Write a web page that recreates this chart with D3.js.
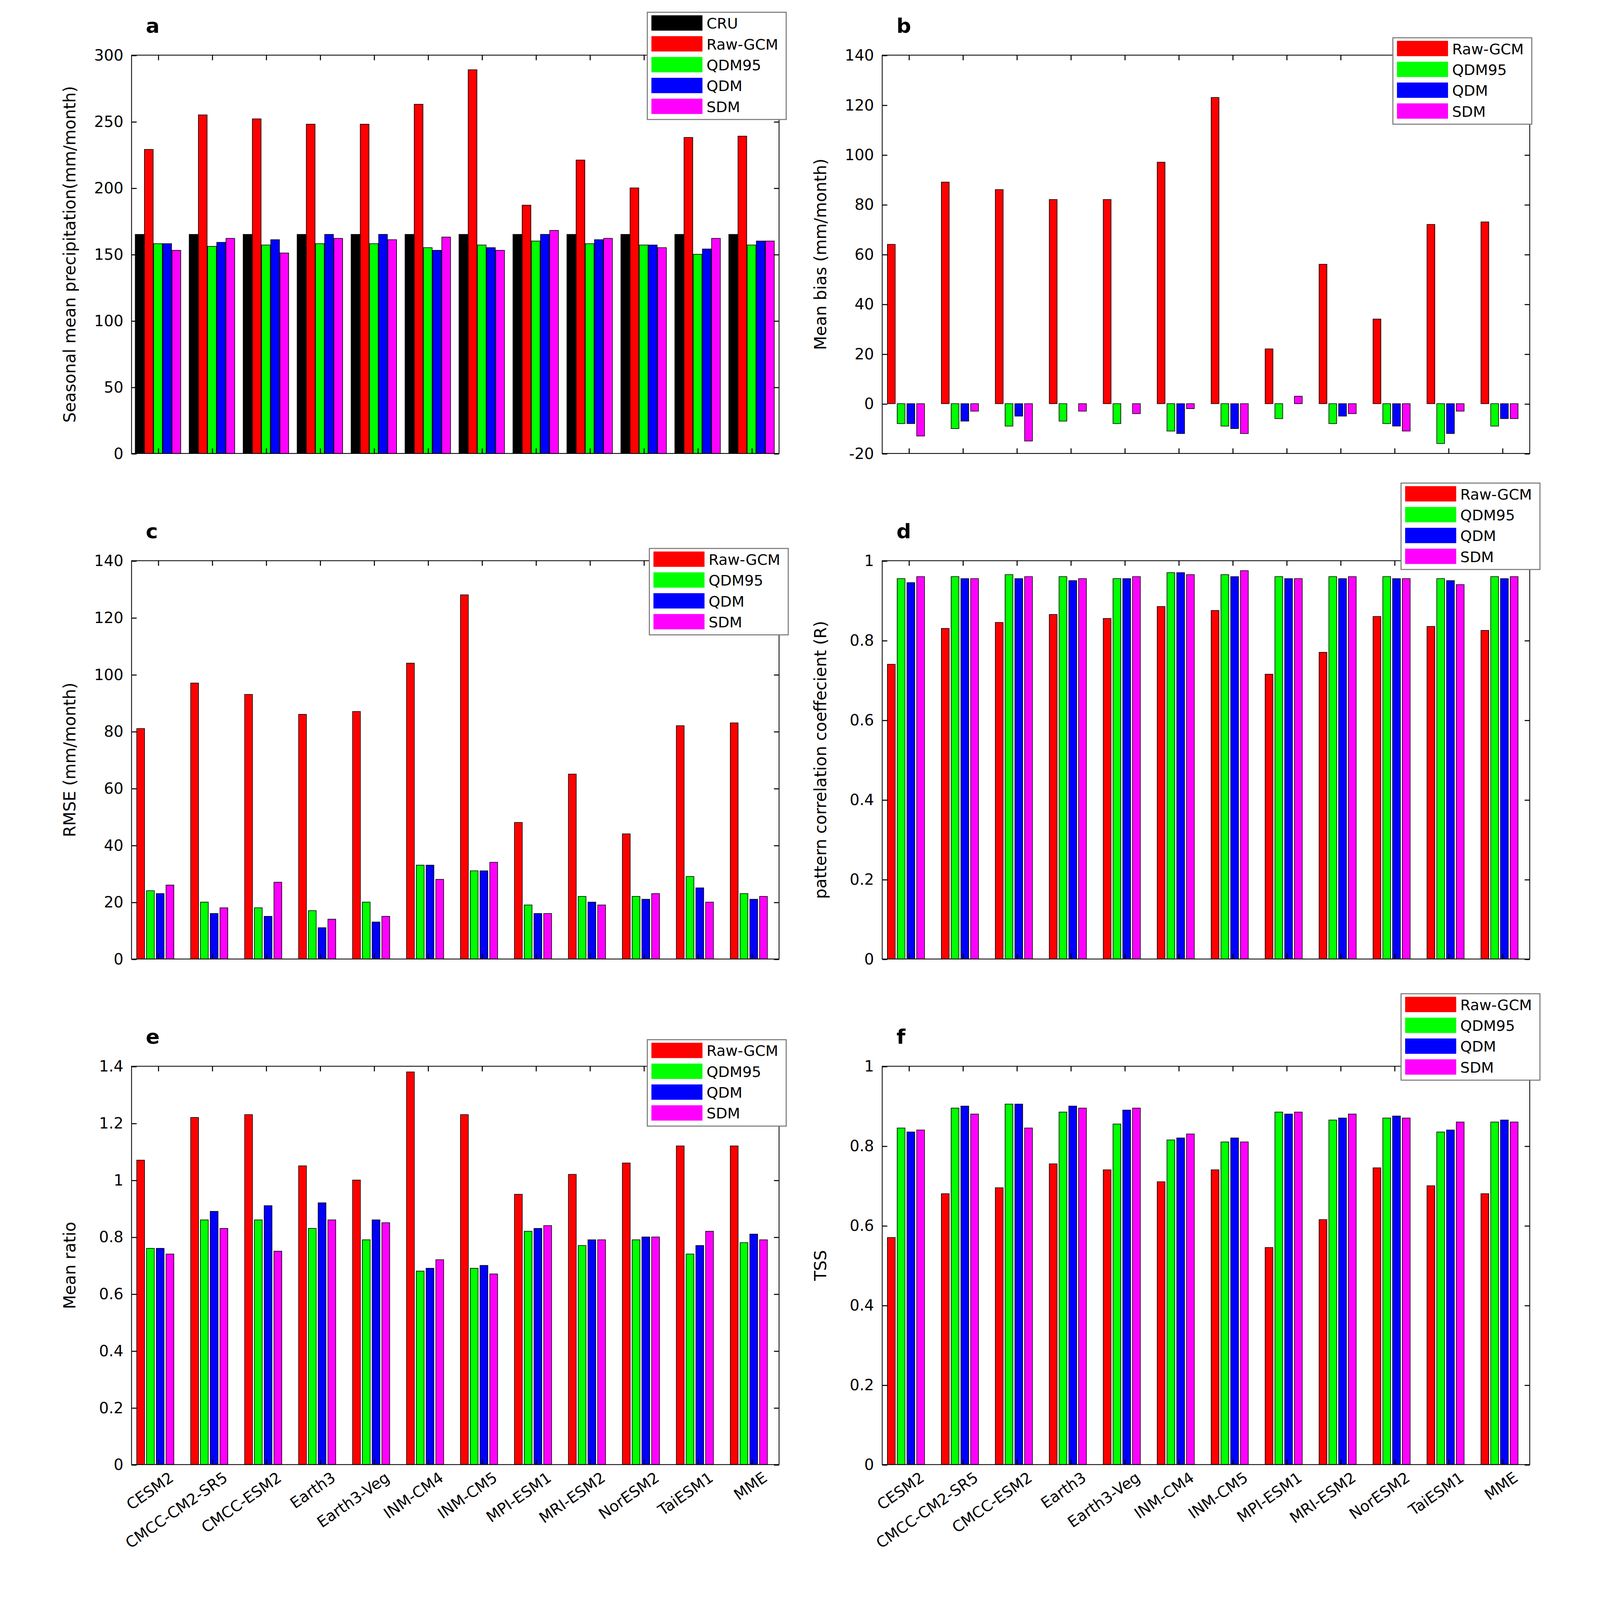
<!DOCTYPE html><html><head><meta charset="utf-8"><script src="https://cdn.jsdelivr.net/npm/d3@7"></script>
<style>html,body{margin:0;padding:0;background:#fff;overflow:hidden}svg{display:block}text{font-family:"DejaVu Sans",sans-serif}</style></head><body>
<script>
const models=["CESM2","CMCC-CM2-SR5","CMCC-ESM2","Earth3","Earth3-Veg","INM-CM4","INM-CM5","MPI-ESM1","MRI-ESM2","NorESM2","TaiESM1","MME"];
const aCRU=[165,165,165,165,165,165,165,165,165,165,165,165];
const aRaw=[229,255,252,248,248,263,289,187,221,200,238,239];
const aQ95=[158,156,157,158,158,155,157,160,158,157,150,157];
const aQDM=[158,159,161,165,165,153,155,165,161,157,154,160];
const aSDM=[153,162,151,162,161,163,153,168,162,155,162,160];
const bRaw=[64,89,86,82,82,97,123,22,56,34,72,73];
const bQ95=[-8,-10,-9,-7,-8,-11,-9,-6,-8,-8,-16,-9];
const bQDM=[-8,-7,-5,0,0,-12,-10,0,-5,-9,-12,-6];
const bSDM=[-13,-3,-15,-3,-4,-2,-12,3,-4,-11,-3,-6];
const cRaw=[81,97,93,86,87,104,128,48,65,44,82,83];
const cQ95=[24,20,18,17,20,33,31,19,22,22,29,23];
const cQDM=[23,16,15,11,13,33,31,16,20,21,25,21];
const cSDM=[26,18,27,14,15,28,34,16,19,23,20,22];
const dRaw=[.74,.83,.845,.865,.855,.885,.875,.715,.77,.86,.835,.825];
const dQ95=[.955,.96,.965,.96,.955,.97,.965,.96,.96,.96,.955,.96];
const dQDM=[.945,.955,.955,.95,.955,.97,.96,.955,.955,.955,.95,.955];
const dSDM=[.96,.955,.96,.955,.96,.965,.975,.955,.96,.955,.94,.96];
const eRaw=[1.07,1.22,1.23,1.05,1.0,1.38,1.23,.95,1.02,1.06,1.12,1.12];
const eQ95=[.76,.86,.86,.83,.79,.68,.69,.82,.77,.79,.74,.78];
const eQDM=[.76,.89,.91,.92,.86,.69,.70,.83,.79,.80,.77,.81];
const eSDM=[.74,.83,.75,.86,.85,.72,.67,.84,.79,.80,.82,.79];
const fRaw=[.57,.68,.695,.755,.74,.71,.74,.545,.615,.745,.70,.68];
const fQ95=[.845,.895,.905,.885,.855,.815,.81,.885,.865,.87,.835,.86];
const fQDM=[.835,.90,.905,.90,.89,.82,.82,.88,.87,.875,.84,.865];
const fSDM=[.84,.88,.845,.895,.895,.83,.81,.885,.88,.87,.86,.86];
const col={CRU:"#000",'Raw-GCM':"#ff0000",QDM95:"#00ff00",QDM:"#0000ff",SDM:"#ff00ff"};
const svg=d3.select("body").append("svg").attr("viewBox","0 0 1475 1566.6")
  .attr("preserveAspectRatio","xMidYMid meet").style("width","100vw").style("height","100vh");
const root=svg.append("g");
const panels=[
 {l:"a",x:83,y:54,dom:[0,300],tk:d3.range(0,301,50),yl:"Seasonal mean precipitation(mm/month)",s:{CRU:aCRU,'Raw-GCM':aRaw,QDM95:aQ95,QDM:aQDM,SDM:aSDM},lg:[588,12],fmt:d=>d},
 {l:"b",x:818,y:54,dom:[-20,140],tk:d3.range(-20,141,20),yl:"Mean bias (mm/month)",s:{'Raw-GCM':bRaw,QDM95:bQ95,QDM:bQDM,SDM:bSDM},lg:[1318,37],fmt:d=>d},
 {l:"c",x:83,y:549,dom:[0,140],tk:d3.range(0,141,20),yl:"RMSE (mm/month)",s:{'Raw-GCM':cRaw,QDM95:cQ95,QDM:cQDM,SDM:cSDM},lg:[590,537],fmt:d=>d},
 {l:"d",x:818,y:549,dom:[0,1],tk:d3.range(0,1.01,0.2),yl:"pattern correlation coeffecient (R)",s:{'Raw-GCM':dRaw,QDM95:dQ95,QDM:dQDM,SDM:dSDM},lg:[1326,473],fmt:d=>+d.toFixed(1)},
 {l:"e",x:83,y:1044,dom:[0,1.4],tk:d3.range(0,1.41,0.2),yl:"Mean ratio",s:{'Raw-GCM':eRaw,QDM95:eQ95,QDM:eQDM,SDM:eSDM},lg:[588,1018],fmt:d=>+d.toFixed(1),xl:true},
 {l:"f",x:818,y:1044,dom:[0,1],tk:d3.range(0,1.01,0.2),yl:"TSS",s:{'Raw-GCM':fRaw,QDM95:fQ95,QDM:fQDM,SDM:fSDM},lg:[1326,973],fmt:d=>+d.toFixed(1),xl:true}];
const W=634,H=390;
panels.forEach(p=>{
 const g=root.append("g").attr("transform",`translate(${p.x},${p.y})`);
 const keys=Object.keys(p.s);
 const x=d3.scaleBand().domain(models).range([0,W]);
 const inner=d3.scaleBand().domain(keys).range([x.bandwidth()*0.06,x.bandwidth()*(keys.length==5?0.92:0.82)]).padding(keys.length==5?0.05:0.2);
 const y=d3.scaleLinear().domain(p.dom).range([H,0]);
 keys.forEach(k=>{
  g.selectAll(null).data(p.s[k]).enter().append("rect")
   .attr("x",(d,i)=>x(models[i])+inner(k)).attr("width",inner.bandwidth())
   .attr("y",d=>y(Math.max(0,d))).attr("height",d=>Math.abs(y(d)-y(0)))
   .attr("fill",col[k]).attr("stroke","#000").attr("stroke-width",0.6);
 });
 g.append("rect").attr("width",W).attr("height",H).attr("fill","none").attr("stroke","#000").attr("stroke-width",0.8);
 const ya=g.append("g").call(d3.axisLeft(y).tickValues(p.tk).tickSizeInner(-5).tickSizeOuter(0).tickPadding(8).tickFormat(p.fmt));
 ya.select(".domain").remove();
 ya.selectAll("text").attr("font-size",15);
 g.append("g").call(d3.axisRight(y).tickValues(p.tk).tickSize(-5).tickFormat("")).attr("transform",`translate(${W},0)`).select(".domain").remove();
 const xa=g.append("g").attr("transform",`translate(0,${H})`).call(d3.axisBottom(x).tickSize(-5).tickFormat(p.xl?null:""));
 xa.select(".domain").remove();
 g.append("g").call(d3.axisTop(x).tickSize(-5).tickFormat("")).select(".domain").remove();
 if(p.xl) xa.selectAll("text").attr("font-size",15).attr("text-anchor","end").attr("transform","translate(8,4) rotate(-35)");
 g.append("text").attr("transform",`translate(-55,${H/2}) rotate(-90)`).attr("text-anchor","middle").attr("font-size",16).text(p.yl);
 g.append("text").attr("x",14).attr("y",-22).attr("font-size",20).attr("font-weight","bold").text(p.l);
 const lg=root.append("g").attr("transform",`translate(${p.lg[0]},${p.lg[1]})`);
 lg.append("rect").attr("width",136).attr("height",keys.length*20.4+3).attr("fill","#fff").attr("stroke","#777");
 keys.forEach((k,i)=>{
  lg.append("rect").attr("x",4).attr("y",3+i*20.4).attr("width",50).attr("height",15).attr("fill",col[k]);
  lg.append("text").attr("x",58).attr("y",16+i*20.4).attr("font-size",14.5).text(k);
 });
});
</script></body></html>
